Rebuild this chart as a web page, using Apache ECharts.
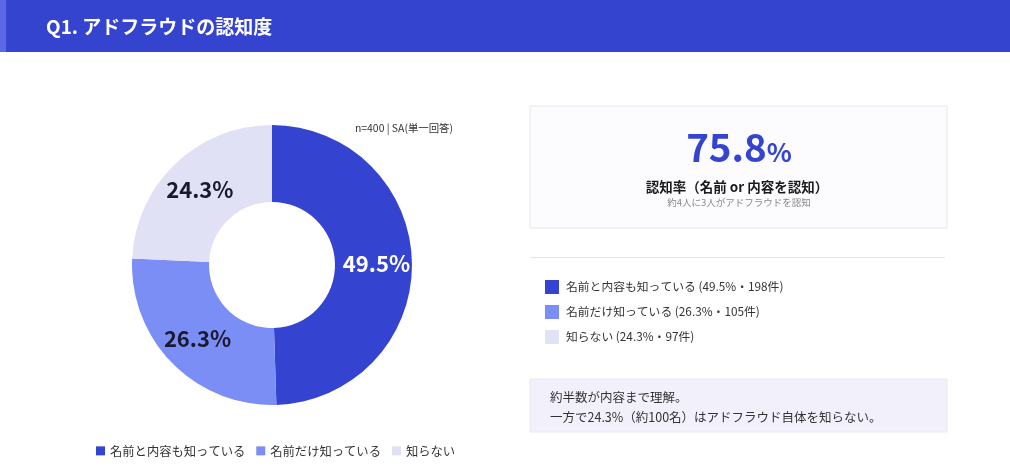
<!DOCTYPE html>
<html><head><meta charset="utf-8">
<script src="https://cdn.jsdelivr.net/npm/echarts@6/dist/echarts.min.js"></script>
<style>html,body{margin:0;padding:0;background:#fff}#c{width:1010px;height:470px}</style>
</head><body><div id="c"></div>
<script>
const categories = ['名前と内容も知っている', '名前だけ知っている', '知らない'];
const counts = [198, 105, 97];
const percents = [49.5, 26.3, 24.3];
const colors = ['#3544d0', '#7b8ef5', '#e1e1f5'];
const labelColors = ['#ffffff', '#1a1a2e', '#1a1a2e'];
const awareness = 75.8;
const FONT = '"Noto Sans CJK JP", "Noto Sans", sans-serif';

const chart = echarts.init(document.getElementById('c'), null, {renderer: 'canvas'});
const data = categories.map((n, i) => ({
  name: n, value: counts[i],
  itemStyle: {color: colors[i]},
  label: {color: labelColors[i]}
}));

const legendRows = categories.map((n, i) => ([
  {type: 'rect', x: 545, y: 280 + i * 25, shape: {width: 14, height: 14}, style: {fill: colors[i]}},
  {type: 'text', x: 566, y: 287 + i * 25, style: {text: n + ' (' + percents[i] + '%・' + counts[i] + '件)', fill: '#333', font: '11.8px ' + FONT, textVerticalAlign: 'middle'}}
])).flat();

chart.setOption({
  textStyle: {fontFamily: FONT},
  animation: false,
  legend: {
    bottom: 13, left: 96, padding: 0, itemWidth: 9, itemHeight: 9, itemGap: 11,
    icon: 'rect',
    textStyle: {fontSize: 12.3, color: '#333', fontFamily: FONT},
    data: categories
  },
  series: [{
    type: 'pie', center: [272, 265], radius: [63, 140], startAngle: 90, clockwise: true,
    data: data,
    label: {position: 'inside', fontSize: 22, fontWeight: 'bold', fontFamily: FONT,
      formatter: p => percents[p.dataIndex].toFixed(1) + '%'},
    labelLine: {show: false},
    emphasis: {disabled: true}
  }],
  graphic: [
    {type: 'rect', x: 0, y: 0, shape: {width: 1010, height: 52}, style: {fill: '#3444cf'}},
    {type: 'rect', x: 0, y: 0, shape: {width: 6, height: 52}, style: {fill: '#5b6ae2'}},
    {type: 'text', x: 46, y: 27, style: {text: 'Q1. アドフラウドの認知度', fill: '#fff', font: 'bold 19px ' + FONT, textVerticalAlign: 'middle'}},
    {type: 'text', x: 355, y: 128, style: {text: 'n=400 | SA(単一回答)', fill: '#333', font: '10.4px ' + FONT, textVerticalAlign: 'middle'}},
    {type: 'rect', x: 530, y: 106, shape: {width: 417, height: 122}, style: {fill: '#fcfcfe', stroke: '#e6e6ee', lineWidth: 1}},
    {type: 'text', x: 739, y: 147, style: {
      text: '{a|' + awareness.toFixed(1) + '}{b|%}', textAlign: 'center', textVerticalAlign: 'middle',
      rich: {a: {fontSize: 38.5, fontWeight: 'bold', fill: '#3544d0', color: '#3544d0', fontFamily: FONT},
             b: {fontSize: 26, fontWeight: 'bold', fill: '#3544d0', color: '#3544d0', fontFamily: FONT, padding: [10, 0, 0, 0]}}
    }},
    {type: 'text', x: 737, y: 187, style: {text: '認知率（名前 or 内容を認知）', fill: '#1a1a1a', font: 'bold 13.5px ' + FONT, textAlign: 'center', textVerticalAlign: 'middle'}},
    {type: 'text', x: 739, y: 202, style: {text: '約4人に3人がアドフラウドを認知', fill: '#888', font: '9.5px ' + FONT, textAlign: 'center', textVerticalAlign: 'middle'}},
    {type: 'rect', x: 530, y: 257, shape: {width: 415, height: 1}, style: {fill: '#e4e4ea'}},
    ...legendRows,
    {type: 'rect', x: 530, y: 379, shape: {width: 417, height: 53}, style: {fill: '#f1f0fb', stroke: '#e8e8f2', lineWidth: 1}},
    {type: 'text', x: 550, y: 397, style: {text: '約半数が内容まで理解。', fill: '#333', font: '12.5px ' + FONT, textVerticalAlign: 'middle'}},
    {type: 'text', x: 550, y: 417, style: {text: '一方で24.3%（約100名）はアドフラウド自体を知らない。', fill: '#333', font: '12.5px ' + FONT, textVerticalAlign: 'middle'}}
  ]
});
</script></body></html>
